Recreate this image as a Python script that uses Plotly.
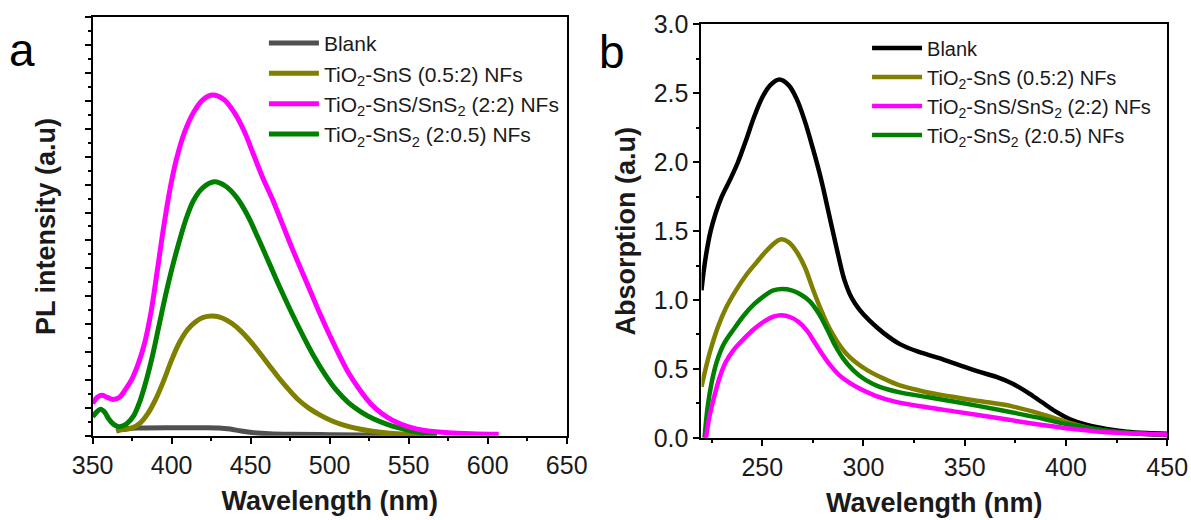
import plotly.graph_objects as go

# ---------------- Panel a : PL spectra ----------------
pl_blank_x = [365, 368, 372, 380, 400, 420, 430, 437, 444, 452, 462, 475, 500, 530, 560]
pl_blank_y = [0.16, 0.22, 0.26, 0.28, 0.29, 0.29, 0.28, 0.24, 0.17, 0.11, 0.07, 0.05, 0.04, 0.02, 0.01]

pl_sns_x = [365, 370, 375, 380, 385, 390, 395, 400, 405, 410, 415, 420, 426, 432, 438, 444, 450, 456, 462, 468,
            474, 480, 487, 494, 502, 510, 518, 527, 538, 550, 560]
pl_sns_y = [0.20, 0.22, 0.28, 0.45, 0.80, 1.32, 1.98, 2.72, 3.35, 3.80, 4.08, 4.24, 4.29, 4.22, 4.03, 3.74, 3.37, 2.95, 2.50, 2.06,
            1.66, 1.30, 0.98, 0.74, 0.52, 0.36, 0.25, 0.16, 0.09, 0.05, 0.03]

pl_mix_x = [350, 353, 356, 359, 363, 367, 371, 375, 379, 383, 387, 391, 395, 399, 403, 408, 414, 420, 426, 433, 440, 446,
            452, 458, 464, 470, 476, 482, 488, 494, 500, 506, 512, 519, 526, 533, 540, 550, 560, 575, 590, 607]
pl_mix_y = [1.16, 1.38, 1.45, 1.38, 1.30, 1.38, 1.68, 2.05, 2.60, 3.35, 4.45, 5.95, 7.50, 8.85, 9.90, 10.85, 11.60, 12.05, 12.21, 12.05, 11.55, 10.90,
            10.05, 9.20, 8.45, 7.60, 6.75, 5.95, 5.15, 4.35, 3.60, 2.90, 2.25, 1.65, 1.15, 0.80, 0.55, 0.32, 0.19, 0.11, 0.07, 0.05]

pl_sns2_x = [350, 352.5, 355, 357.5, 360, 363, 366, 369, 372, 376, 380, 384, 388, 392, 396, 400, 404, 409, 414, 420, 427,
             434, 441, 448, 455, 462, 469, 476, 483, 490, 497, 504, 512, 520, 528, 536, 544, 552, 560, 568]
pl_sns2_y = [0.68, 0.85, 0.95, 0.85, 0.62, 0.42, 0.33, 0.35, 0.45, 0.72, 1.25, 2.00, 2.90, 3.95, 5.00, 5.95, 6.80, 7.75, 8.45, 8.90, 9.10,
             8.95, 8.55, 7.90, 7.05, 6.15, 5.25, 4.40, 3.60, 2.85, 2.20, 1.65, 1.18, 0.85, 0.60, 0.42, 0.28, 0.17, 0.09, 0.05]

# ---------------- Panel b : absorption spectra ----------------
ab_blank_x = [220, 221, 222.5, 224.5, 227, 230, 234, 238, 242, 246, 250, 254, 258.5, 263, 267, 271, 275, 279, 283, 287,
              290.5, 294, 298, 303, 310, 318, 327, 337, 347, 357, 366, 374, 381, 388, 395, 402, 410, 420, 430, 440, 450]
ab_blank_y = [1.07, 1.20, 1.35, 1.50, 1.63, 1.75, 1.87, 2.00, 2.16, 2.33, 2.47, 2.56, 2.60, 2.56, 2.46, 2.30, 2.10, 1.88, 1.62, 1.36,
              1.15, 1.02, 0.93, 0.85, 0.76, 0.68, 0.625, 0.58, 0.53, 0.48, 0.44, 0.39, 0.33, 0.26, 0.19, 0.135, 0.095, 0.065, 0.045, 0.035, 0.03]

ab_sns_x = [220, 222, 224.5, 228, 232, 237, 242, 247, 251, 255, 259, 263, 267, 271, 275, 279, 283, 287, 291, 296, 302,
            310, 318, 330, 343, 358, 373, 385, 395, 405, 415, 425, 437, 450]
ab_sns_y = [0.37, 0.50, 0.64, 0.80, 0.94, 1.07, 1.18, 1.27, 1.34, 1.40, 1.44, 1.42, 1.35, 1.24, 1.08, 0.93, 0.80, 0.70, 0.62, 0.55, 0.49,
            0.43, 0.38, 0.335, 0.30, 0.265, 0.23, 0.185, 0.14, 0.095, 0.06, 0.04, 0.03, 0.02]

ab_mix_x = [222.2, 224, 226.3, 229, 232, 236, 241, 246, 251, 255.5, 259.5, 264, 268, 272, 276, 280, 284, 288, 293, 299,
            306, 315, 330, 348, 368, 385, 400, 420, 450]
ab_mix_y = [0.0, 0.16, 0.30, 0.44, 0.55, 0.64, 0.72, 0.79, 0.845, 0.88, 0.89, 0.875, 0.84, 0.78, 0.69, 0.60, 0.52, 0.455, 0.40, 0.35,
            0.305, 0.265, 0.225, 0.185, 0.14, 0.10, 0.07, 0.04, 0.025]

ab_sns2_x = [221.5, 223, 225, 227.5, 231, 236, 241, 246, 251, 255.5, 260, 264.5, 269, 273.5, 278, 282, 286, 290, 295, 301,
             308, 318, 332, 348, 368, 385, 400, 412, 425, 437, 450]
ab_sns2_y = [0.0, 0.22, 0.40, 0.55, 0.68, 0.79, 0.89, 0.97, 1.03, 1.07, 1.08, 1.07, 1.04, 0.99, 0.90, 0.79, 0.67, 0.575, 0.49, 0.42,
             0.37, 0.33, 0.295, 0.255, 0.20, 0.15, 0.10, 0.07, 0.045, 0.03, 0.02]

names = ["Blank",
         "TiO<sub>2</sub>-SnS (0.5:2) NFs",
         "TiO<sub>2</sub>-SnS/SnS<sub>2</sub> (2:2) NFs",
         "TiO<sub>2</sub>-SnS<sub>2</sub> (2:0.5) NFs"]
ranks = [1, 2, 3, 4]
colors_a = ["#505050", "#7f7f00", "#ff00ff", "#007f00"]
colors_b = ["#000000", "#7f7f00", "#ff00ff", "#007f00"]

FONT = "Arial, Liberation Sans, sans-serif"
TXT = "#1a1a1a"
fig = go.Figure()

# draw order: blank, olive, green, magenta (magenta on top); legend order via legendrank
series_a = [(pl_blank_x, pl_blank_y, 0), (pl_sns_x, pl_sns_y, 1), (pl_sns2_x, pl_sns2_y, 3), (pl_mix_x, pl_mix_y, 2)]
for xs, ys, i in series_a:
    fig.add_trace(go.Scatter(x=xs, y=ys, mode="lines", name=names[i], legendrank=ranks[i],
                             line=dict(color=colors_a[i], width=5, shape="spline", smoothing=1.0),
                             xaxis="x", yaxis="y", legend="legend"))

series_b = [(ab_blank_x, ab_blank_y, 0), (ab_sns_x, ab_sns_y, 1), (ab_sns2_x, ab_sns2_y, 3), (ab_mix_x, ab_mix_y, 2)]
for xs, ys, i in series_b:
    fig.add_trace(go.Scatter(x=xs, y=ys, mode="lines", name=names[i], legendrank=ranks[i],
                             line=dict(color=colors_b[i], width=4.5, shape="spline", smoothing=1.0),
                             xaxis="x2", yaxis="y2", legend="legend2"))

axis_common = dict(showline=True, linecolor="black", linewidth=2, mirror=True, ticks="outside",
                   tickcolor="black", tickwidth=2, ticklen=6, showgrid=False, zeroline=False, automargin=False,
                   tickfont=dict(family=FONT, size=25, color=TXT))
title_font = dict(family=FONT, size=27, color=TXT)
minor_common = dict(ticks="outside", ticklen=3, tickwidth=2, tickcolor="black")

fig.update_layout(
    width=1191, height=520,
    margin=dict(l=0, r=0, t=0, b=0, autoexpand=False),
    paper_bgcolor="white", plot_bgcolor="white",
    showlegend=True,
    xaxis=dict(domain=[0.0778, 0.4758], range=[350, 650], dtick=50, tick0=350,
               minor=dict(dtick=25, **minor_common),
               title=dict(text="<b>Wavelength (nm)</b>", font=title_font, standoff=13), anchor="y",
               **axis_common),
    yaxis=dict(domain=[0.162, 0.967], range=[0, 15], dtick=1, showticklabels=False,
               minor=dict(dtick=0.5, **minor_common),
               title=dict(text="<b>PL intensity (a.u)</b>", font=title_font, standoff=21), anchor="x",
               **axis_common),
    xaxis2=dict(domain=[0.589, 0.980], range=[220, 450], dtick=50, tick0=250,
                minor=dict(dtick=25, tick0=225, **minor_common),
                title=dict(text="<b>Wavelength (nm)</b>", font=title_font, standoff=13), anchor="y2",
                **axis_common),
    yaxis2=dict(domain=[0.158, 0.953], range=[0, 3.0], dtick=0.5, tickformat=".1f",
                minor=dict(dtick=0.25, **minor_common),
                title=dict(text="<b>Absorption (a.u)</b>", font=title_font, standoff=10), anchor="x2",
                **axis_common),
    legend=dict(x=0.2216, y=0.956, xanchor="left", yanchor="top", bgcolor="rgba(0,0,0,0)",
                font=dict(family=FONT, size=21, color=TXT), itemwidth=50),
    legend2=dict(x=0.728, y=0.945, xanchor="left", yanchor="top", bgcolor="rgba(0,0,0,0)",
                 font=dict(family=FONT, size=20, color=TXT), itemwidth=50),
    annotations=[
        dict(text="a", x=22 / 1191, y=1 - 50 / 520, xref="paper", yref="paper", showarrow=False,
             xanchor="center", yanchor="middle", font=dict(family=FONT, size=46, color="black")),
        dict(text="b", x=612 / 1191, y=1 - 52 / 520, xref="paper", yref="paper", showarrow=False,
             xanchor="center", yanchor="middle", font=dict(family=FONT, size=46, color="black")),
    ],
)

fig.write_html("out.html")
